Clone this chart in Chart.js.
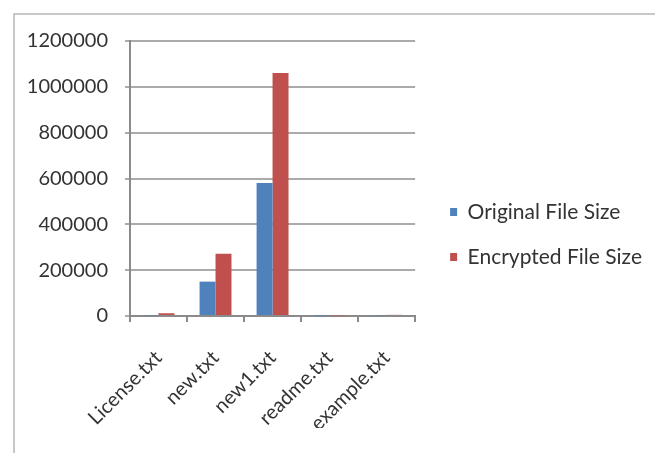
<!DOCTYPE html>
<html>
<head>
<meta charset="utf-8">
<script src="https://cdn.jsdelivr.net/npm/chart.js@4/dist/chart.umd.min.js"></script>
<style>
  html, body { margin: 0; padding: 0; background: #ffffff; }
  #wrap { position: relative; width: 655px; height: 453px; overflow: hidden; }
  #frame { position: absolute; left: 13px; top: 13px; width: 700px; height: 500px;
           border-left: 2px solid #c8c8c8; border-top: 2px solid #c8c8c8; pointer-events: none; }
  canvas { position: absolute; left: 0; top: 0; }
</style>
</head>
<body>
<div id="wrap">
  <canvas id="c" width="655" height="453"></canvas>
  <div id="frame"></div>
</div>
<script>
const categories = ["License.txt", "new.txt", "new1.txt", "readme.txt", "example.txt"];
const originalSize = [3000, 150000, 580000, 1500, 3000];
const encryptedSize = [12000, 272000, 1060000, 2500, 5000];
const seriesNames = ["Original File Size", "Encrypted File Size"];

const FONT = "Lato, 'Open Sans', sans-serif";
const gridColor = "#ababab";
const axisColor = "#8a8a8a";
const textColor = "#333333";

new Chart(document.getElementById("c"), {
  type: "bar",
  data: {
    labels: categories,
    datasets: [
      { label: seriesNames[0], data: originalSize, backgroundColor: "#4f81bd", categoryPercentage: 0.56, barPercentage: 1.0 },
      { label: seriesNames[1], data: encryptedSize, backgroundColor: "#c0504d", categoryPercentage: 0.56, barPercentage: 1.0 }
    ]
  },
  options: {
    responsive: false,
    animation: false,
    layout: { padding: { left: 20, top: 41, right: 3, bottom: 25 } },
    plugins: {
      tooltip: { enabled: false },
      legend: {
        position: "right",
        maxWidth: 320,
        labels: {
          boxWidth: 7, boxHeight: 8, padding: 24,
          color: textColor,
          font: { family: FONT, size: 21 }
        }
      }
    },
    scales: {
      x: {
        grid: { display: true, drawOnChartArea: false, drawTicks: true, tickLength: 6, offset: true, color: axisColor, lineWidth: 2 },
        border: { display: true, color: axisColor, width: 2 },
        ticks: { maxRotation: 45, minRotation: 45, color: textColor, font: { family: FONT, size: 20 }, padding: 24 },
        afterFit: (s) => { s.height = 112; }
      },
      y: {
        min: 0, max: 1200000,
        grid: { color: gridColor, lineWidth: 2, tickLength: 5 },
        border: { display: true, color: axisColor, width: 2 },
        ticks: { stepSize: 200000, color: textColor, font: { family: FONT, size: 20 }, padding: 17,
                 callback: (v) => String(v) },
        afterFit: (s) => { s.width = 110; }
      },
      y2: {
        type: "linear", position: "right", display: true,
        grid: { display: false }, border: { display: false },
        ticks: { display: false },
        afterFit: (s) => { s.width = 11; }
      }
    }
  }
});
</script>
</body>
</html>
